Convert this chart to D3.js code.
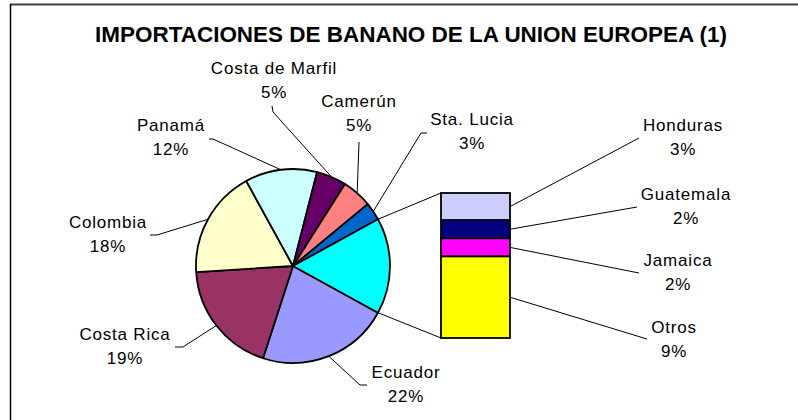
<!DOCTYPE html>
<html>
<head>
<meta charset="utf-8">
<script src="https://cdn.jsdelivr.net/npm/d3@7"></script>
<style>
  html, body { margin: 0; padding: 0; background: #fff; }
  svg { display: block; }
  text { font-family: "Liberation Sans", Arial, sans-serif; fill: #000; }
</style>
</head>
<body>
<svg id="chart" width="798" height="420"></svg>
<script>
// ---- data ----
const title = "IMPORTACIONES DE BANANO DE LA UNION EUROPEA (1)";
const pieCategories = ["Ecuador", "Costa Rica", "Colombia", "Panamá", "Costa de Marfil", "Camerún", "Sta. Lucia"];
const pieValues = [22, 19, 18, 12, 5, 5, 3];
const pieColors = ["#9999FF", "#993366", "#FFFFCC", "#CCFFFF", "#660066", "#FF8080", "#0066CC"];
const otherColor = "#00FFFF";
const barCategories = ["Honduras", "Guatemala", "Jamaica", "Otros"];
const barValues = [3, 2, 2, 9];
const barColors = ["#CCCCFF", "#000080", "#FF00FF", "#FFFF00"];

// ---- layout (positions of labels / leader elbows) ----
const pieLabelLayout = [
  { x: 406, y: 378, elbow: [[360, 385], [367, 385]] },
  { x: 125, y: 340, elbow: [[183, 347], [175, 347]] },
  { x: 108, y: 228, elbow: [[157, 235], [150, 235]] },
  { x: 171, y: 131, elbow: [[213, 139], [209, 139]] },
  { x: 274, y: 74,  elbow: [[273, 112], [272, 106]] },
  { x: 359, y: 107, elbow: [[359, 142]] },
  { x: 472, y: 125, elbow: [[421, 133], [427, 133]] }
];
const barLabelLayout = [
  { x: 683, y: 131, end: [639, 138] },
  { x: 686, y: 200, end: [637, 207] },
  { x: 678, y: 266, end: [639, 273] },
  { x: 674, y: 333, end: [647, 339] }
];

const svg = d3.select("#chart");
const W = 798, H = 420;
svg.append("rect").attr("width", W).attr("height", H).attr("fill", "#fff");

// frame
svg.append("line").attr("x1", 10).attr("x2", W + 5).attr("y1", 4.5).attr("y2", 4.5)
  .attr("stroke", "#404040").attr("stroke-width", 2);
svg.append("line").attr("x1", 10.5).attr("x2", 10.5).attr("y1", 4).attr("y2", H + 5)
  .attr("stroke", "#000").attr("stroke-width", 1.5);

// title
svg.append("text")
  .attr("x", 95).attr("y", 42)
  .attr("font-size", 21.5).attr("font-weight", "bold")
  .attr("textLength", 632).attr("lengthAdjust", "spacingAndGlyphs")
  .text(title);

// ---- pie ----
const cx = 293, cy = 266, R = 97;
const otherTotal = d3.sum(barValues);
const total = d3.sum(pieValues) + otherTotal;
const pieData = pieCategories.map((c, i) => ({ name: c, value: pieValues[i], color: pieColors[i] }))
  .concat([{ name: "Otros (bar)", value: otherTotal, color: otherColor }]);
const start = Math.PI / 2 + (otherTotal / total) * Math.PI;
const pie = d3.pie().sort(null).value(d => d.value).startAngle(start).endAngle(start + 2 * Math.PI);
const arcs = pie(pieData);
const arc = d3.arc().innerRadius(0).outerRadius(R);

const g = svg.append("g").attr("transform", `translate(${cx},${cy})`);
g.selectAll("path").data(arcs).join("path")
  .attr("d", arc)
  .attr("fill", d => d.data.color)
  .attr("stroke", "#000").attr("stroke-width", 1.8).attr("stroke-linejoin", "round");

const edgePoint = (a, r) => [cx + r * Math.sin(a), cy - r * Math.cos(a)];

// ---- bar ----
const barX = 441, barW = 69;
const y = d3.scaleLinear().domain([0, otherTotal]).range([193, 338]);
let cum = 0;
const barData = barValues.map((v, i) => {
  const d = { name: barCategories[i], value: v, y0: cum, y1: cum + v, color: barColors[i] };
  cum += v;
  return d;
});
svg.selectAll("rect.seg").data(barData).join("rect")
  .attr("class", "seg")
  .attr("x", barX).attr("width", barW)
  .attr("y", d => y(d.y0)).attr("height", d => y(d.y1) - y(d.y0))
  .attr("fill", d => d.color)
  .attr("stroke", "#000").attr("stroke-width", 1.8);

// connector lines pie -> bar
const otherArc = arcs[arcs.length - 1];
const pTop = edgePoint(otherArc.startAngle, R);
const pBot = edgePoint(otherArc.endAngle, R);
svg.append("line").attr("x1", pTop[0]).attr("y1", pTop[1]).attr("x2", barX).attr("y2", y(0))
  .attr("stroke", "#000").attr("stroke-width", 1);
svg.append("line").attr("x1", pBot[0]).attr("y1", pBot[1]).attr("x2", barX).attr("y2", y(otherTotal))
  .attr("stroke", "#000").attr("stroke-width", 1);

// ---- labels ----
const fmt = v => Math.round(v / total * 100) + "%";
const lineGen = d3.line();

function label(x, yy, name, pct) {
  const t = svg.append("text").attr("text-anchor", "middle").attr("font-size", 17)
    .attr("letter-spacing", "0.8px");
  t.append("tspan").attr("x", x).attr("y", yy).text(name);
  t.append("tspan").attr("x", x).attr("y", yy + 24).text(pct);
}

arcs.slice(0, pieCategories.length).forEach((a, i) => {
  const L = pieLabelLayout[i];
  const mid = (a.startAngle + a.endAngle) / 2;
  const pts = [edgePoint(mid, R)].concat(L.elbow);
  svg.append("path").attr("d", lineGen(pts)).attr("fill", "none")
    .attr("stroke", "#000").attr("stroke-width", 1);
  label(L.x, L.y, a.data.name, fmt(a.data.value));
});

barData.forEach((d, i) => {
  const L = barLabelLayout[i];
  const ym = (y(d.y0) + y(d.y1)) / 2;
  svg.append("line").attr("x1", barX + barW).attr("y1", ym).attr("x2", L.end[0]).attr("y2", L.end[1])
    .attr("stroke", "#000").attr("stroke-width", 1);
  label(L.x, L.y, d.name, fmt(d.value));
});
</script>
</body>
</html>
